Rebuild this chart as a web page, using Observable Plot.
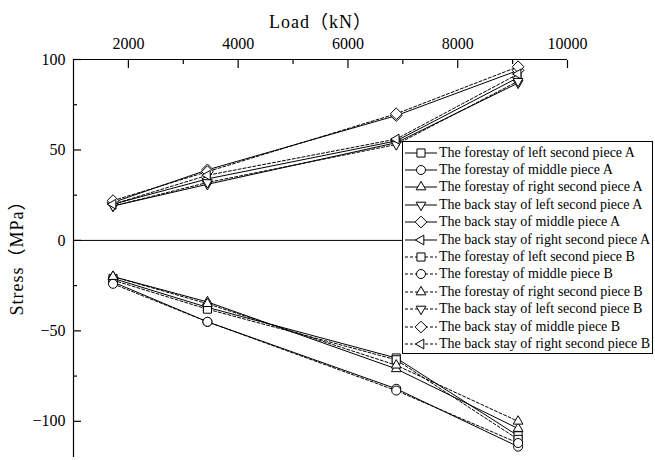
<!DOCTYPE html>
<html><head><meta charset="utf-8">
<script src="https://cdn.jsdelivr.net/npm/d3@7"></script>
<script src="https://cdn.jsdelivr.net/npm/@observablehq/plot@0.6"></script>
<style>
body{margin:0;background:#fff;}
#wrap{position:relative;width:655px;height:460px;}
#legend{position:absolute;left:402px;top:141px;width:251px;height:213px;border:1px solid #000;background:#fff;box-sizing:border-box;font-family:"Liberation Serif","Times New Roman",serif;font-size:14px;padding-top:2px;}
#legend .row{display:flex;align-items:center;height:17.4px;white-space:nowrap;}
#legend svg{display:block;margin-left:1px;margin-right:1px;}
.title-text{letter-spacing:1px;}
</style></head><body><div id="wrap"></div>
<script>
// ---- data ----
const loads = [1720, 3440, 6880, 9100];
const xMajorTicks = [2000, 4000, 6000, 8000, 10000];
const xMinorTicks = [3000, 5000, 7000, 9000];
const yMajorTicks = [-100, -50, 0, 50, 100];
const yMinorTicks = [-75, -25, 25, 75];
const seriesNames = [
  "The forestay of left second piece A",
  "The forestay of middle piece A",
  "The forestay of right second piece A",
  "The back stay of left second piece A",
  "The back stay of middle piece A",
  "The back stay of right second piece A",
  "The forestay of left second piece B",
  "The forestay of middle piece B",
  "The forestay of right second piece B",
  "The back stay of left second piece B",
  "The back stay of middle piece B",
  "The back stay of right second piece B"
];
const seriesSymbols = ["square","circle","up","down","diamond","left","square","circle","up","down","diamond","left"];
const seriesDashed = [false,false,false,false,false,false,true,true,true,true,true,true];
const forestayLeftA   = [-21, -37, -65, -108];
const forestayMiddleA = [-23, -45, -82, -114];
const forestayRightA  = [-20, -34, -71, -104];
const backLeftA       = [19, 31, 54, 87];
const backMiddleA     = [21, 39, 69, 94];
const backRightA      = [20, 34, 55, 90];
const forestayLeftB   = [-22, -38, -66, -110];
const forestayMiddleB = [-24, -45, -83, -112];
const forestayRightB  = [-20, -35, -69, -100];
const backLeftB       = [19, 32, 53, 88];
const backMiddleB     = [22, 38, 70, 96];
const backRightB      = [20, 36, 56, 92];
const seriesValues = [forestayLeftA, forestayMiddleA, forestayRightA, backLeftA, backMiddleA, backRightA,
  forestayLeftB, forestayMiddleB, forestayRightB, backLeftB, backMiddleB, backRightB];
const xTitle = "Load（kN）";
const yTitle = "Stress（MPa）";

// ---- symbols ----
function tri(angle) {
  return {draw(ctx, size) {
    const r = Math.sqrt(size / Math.PI) * 1.25;
    for (let i = 0; i < 3; i++) {
      const a = angle + i * 2 * Math.PI / 3;
      const px = r * Math.cos(a), py = r * Math.sin(a);
      if (i === 0) ctx.moveTo(px, py); else ctx.lineTo(px, py);
    }
    ctx.closePath();
  }};
}
const symbolDefs = {
  square: {draw(ctx, size) { const h = Math.sqrt(size / Math.PI) * 0.9; ctx.moveTo(-h, -h); ctx.lineTo(h, -h); ctx.lineTo(h, h); ctx.lineTo(-h, h); ctx.closePath(); }},
  circle: {draw(ctx, size) { const r = Math.sqrt(size / Math.PI); ctx.moveTo(r, 0); ctx.arc(0, 0, r, 0, 2 * Math.PI); }},
  diamond: {draw(ctx, size) { const h = Math.sqrt(size / Math.PI) * 1.3; ctx.moveTo(0, -h); ctx.lineTo(h, 0); ctx.lineTo(0, h); ctx.lineTo(-h, 0); ctx.closePath(); }},
  up: tri(-Math.PI / 2),
  down: tri(Math.PI / 2),
  left: tri(Math.PI)
};

const records = [];
seriesNames.forEach((name, i) => {
  loads.forEach((L, j) => records.push({series: name, idx: i, dashed: seriesDashed[i], load: L, stress: seriesValues[i][j]}));
});

const font = '"Liberation Serif","Noto Sans CJK SC",serif';
const marks = [
  Plot.ruleY([0], {stroke: "#000", strokeWidth: 1}),
  Plot.ruleY([100], {stroke: "#000", strokeWidth: 1.2}),
  Plot.ruleX([1000], {stroke: "#000", strokeWidth: 1.2}),
  Plot.axisX(xMajorTicks, {anchor: "top", tickSize: -8, tickPadding: 19, label: null, tickFormat: d => String(d), fontSize: 16, strokeWidth: 1.2}),
  Plot.axisX(xMinorTicks, {anchor: "top", tickSize: -4, tickPadding: 0, label: null, tickFormat: () => "", strokeWidth: 1.2}),
  Plot.axisY(yMajorTicks, {anchor: "left", tickSize: -8, tickPadding: 16, label: null, tickFormat: d => d < 0 ? "\u2212" + Math.abs(d) : String(d), fontSize: 16, strokeWidth: 1.2}),
  Plot.axisY(yMinorTicks, {anchor: "left", tickSize: -4, tickPadding: 0, label: null, tickFormat: () => "", strokeWidth: 1.2}),
  Plot.line(records.filter(d => !d.dashed), {x: "load", y: "stress", z: "series", stroke: "#000", strokeWidth: 1}),
  Plot.line(records.filter(d => d.dashed), {x: "load", y: "stress", z: "series", stroke: "#000", strokeWidth: 1, strokeDasharray: "3,2"})
];
seriesNames.forEach((name, i) => {
  marks.push(Plot.dot(records.filter(d => d.idx === i), {x: "load", y: "stress", r: 4.5, symbol: symbolDefs[seriesSymbols[i]], fill: "#fff", stroke: "#000", strokeWidth: 1}));
});
marks.push(Plot.text([xTitle], {frameAnchor: "top", dy: -44, text: d => d, fontSize: 18, className: "title-text"}));
marks.push(Plot.text([yTitle], {frameAnchor: "left", textAnchor: "middle", dx: -56, dy: -5, rotate: -90, text: d => d, fontSize: 18, className: "title-text"}));

const chart = Plot.plot({
  width: 655, height: 460,
  marginLeft: 73, marginRight: 88, marginTop: 59, marginBottom: 3,
  x: {domain: [1000, 10000]},
  y: {domain: [-120, 100]},
  style: {fontFamily: font, color: "#000", background: "#fff", overflow: "visible"},
  marks
});
const wrap = document.getElementById("wrap");
wrap.appendChild(chart);

// ---- legend ----
const legend = document.createElement("div");
legend.id = "legend";
seriesNames.forEach((name, i) => {
  const row = document.createElement("div");
  row.className = "row";
  const svg = d3.create("svg").attr("width", 34).attr("height", 14);
  svg.append("line").attr("x1", 1).attr("x2", 33).attr("y1", 7).attr("y2", 7)
    .attr("stroke", "#000").attr("stroke-width", 1).attr("stroke-dasharray", seriesDashed[i] ? "3,2" : null);
  const p = d3.path();
  symbolDefs[seriesSymbols[i]].draw(p, Math.PI * 4.5 * 4.5);
  svg.append("path").attr("transform", "translate(17,7)").attr("d", p.toString())
    .attr("fill", "#fff").attr("stroke", "#000");
  row.appendChild(svg.node());
  const span = document.createElement("span");
  span.textContent = name;
  row.appendChild(span);
  legend.appendChild(row);
});
wrap.appendChild(legend);
</script></body></html>
